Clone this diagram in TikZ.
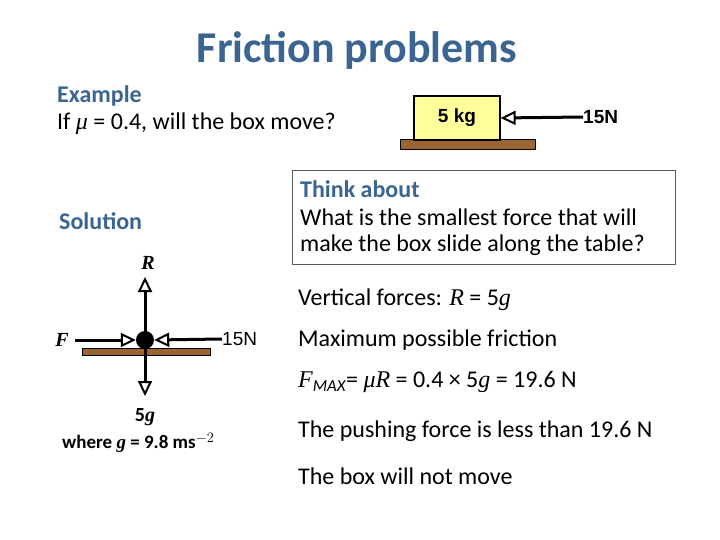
\documentclass[tikz,border=0pt]{standalone}
\usepackage{fontspec}
\setmainfont{Carlito}
\newfontfamily\arialf{Liberation Sans}
\newfontfamily\timesf{Liberation Serif}
\usetikzlibrary{arrows.meta}
\definecolor{tblue}{HTML}{3A6591}
\definecolor{brn}{HTML}{996633}
\definecolor{ylw}{HTML}{FFFF99}
\tikzset{
  body/.style={anchor=west,inner sep=0pt,font=\fontsize{24}{28}\selectfont},
  head/.style={body,text=tblue,font=\fontsize{24}{28}\selectfont\bfseries},
  force/.style={line width=3pt,-{Triangle[open,length=15pt,width=14pt,line width=2pt]}},
  table/.style={draw=black,fill=brn,line width=1pt},
}
\newcommand{\tv}[1]{{\timesf\itshape #1}}
\begin{document}
\begin{tikzpicture}[x=1pt,y=-1pt]
\useasboundingbox (0,0) rectangle (720,540);
\node[text=tblue,font=\fontsize{44}{48}\selectfont\bfseries] (title) at (357,50) {Friction problems};
\node[head] (ex) at (57,96) {Example};
\node[body] (q) at (57,124) {If \tv{μ} = 0.4, will the box move?};
% top box
\draw[table] (400,140) rectangle (535,150);
\node[draw=black,fill=ylw,line width=1.2pt,minimum width=86pt,minimum height=44pt,font=\arialf\bfseries\fontsize{19}{22}\selectfont] (box) at (457,118) {5 kg};
\node[anchor=west,inner sep=0pt,font=\arialf\bfseries\fontsize{19}{22}\selectfont] (f1) at (583,117) {15N};
\draw[force] (f1.west) -- (box.east);
% think
\node[draw=gray!70!black,line width=0.8pt,minimum width=383pt,minimum height=94pt] (think) at (483.5,217) {};
\node[head] (ta) at (300,189) {Think about};
\node[body] (t1) at (300,217) {What is the smallest force that will};
\node[body] (t2) at (300,245) {make the box slide along the table?};
\node[head] (sol) at (59,221) {Solution};
% fbd
\draw[table] (82,348) rectangle (210,355);
\node[circle,fill=black,minimum size=18pt,inner sep=0pt] (dot) at (145,340) {};
\coordinate (up) at (145,277);
\coordinate (down) at (145,396);
\node[inner sep=0pt,font=\fontsize{20}{22}\selectfont\bfseries] (R) at (148,263) {\tv{R}};
\node[inner sep=0pt,font=\fontsize{20}{22}\selectfont\bfseries] (F) at (62,340) {\tv{F}};
\node[anchor=west,inner sep=0pt,font=\arialf\fontsize{19}{22}\selectfont] (f2) at (222,339) {15N};
\coordinate (fl) at (75,340);
\draw[force] (dot.center) -- (up);
\draw[force] (dot.center) -- (down);
\draw[force] (fl) -- (dot.west);
\draw[force] (f2.west) -- (dot.east);
\node[inner sep=0pt,font=\fontsize{20}{22}\selectfont\bfseries] (g5) at (145,417) {5\tv{g}};
\node[anchor=west,inner sep=0pt,font=\fontsize{19}{22}\selectfont\bfseries] (wh) at (62,443) {where \tv{g} = 9.8 ms$^{-2}$};
% right text
\node[body] (v) at (298,300) {Vertical forces: \tv{R} = 5\tv{g}};
\node[body] (m) at (298,340) {Maximum possible friction};
\node[body] (fm) at (298,382) {\tv{F}\textsubscript{\itshape MAX}= \tv{μR} = 0.4 × 5\tv{g} = 19.6 N};
\node[body] (p) at (298,431) {The pushing force is less than 19.6 N};
\node[body] (n) at (298,476) {The box will not move};
\end{tikzpicture}
\end{document}
